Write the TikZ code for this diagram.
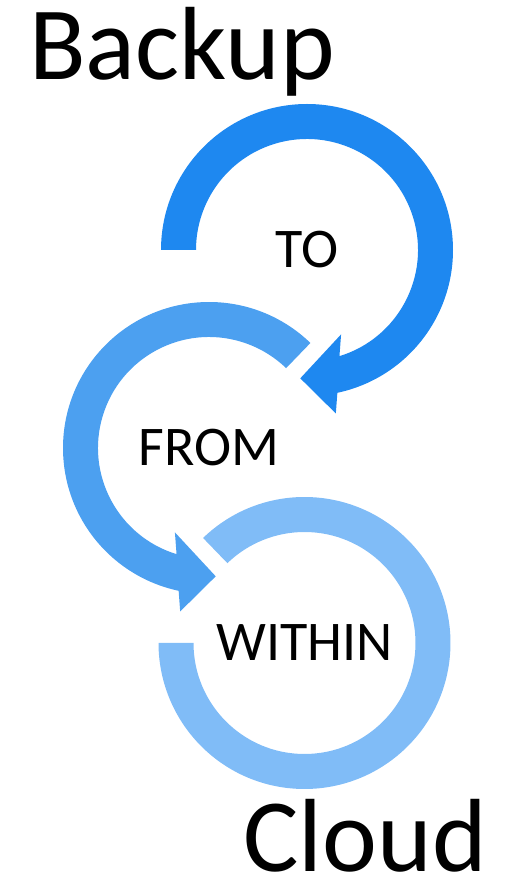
\documentclass[tikz,border=0pt]{standalone}
\usepackage{fontspec}
\setmainfont{Carlito}
\usetikzlibrary{calc}
\definecolor{ringA}{HTML}{1E88F0}
\definecolor{ringB}{HTML}{4CA0F0}
\definecolor{ringC}{HTML}{80BCF7}
\begin{document}
\begin{tikzpicture}[x=0.5pt, y=0.5pt,
  bigword/.style={font=\fontsize{52}{62}\selectfont, inner sep=0pt, anchor=base west},
  ringword/.style={font=\fontsize{28}{34}\selectfont, inner sep=0pt}]
\useasboundingbox (0,0) rectangle (512,880);
\coordinate (ca) at (307,630);
\coordinate (cb) at (209,432);
\coordinate (cc) at (304.5,237);
% Ring TO (pointing into FROM)
\fill[ringA] ($(ca)+(180:146)$) arc[start angle=180, end angle=-78, radius=146]
  -- ($(ca)+(-80:166)$) -- ($(ca)+(-93:128.5)$) -- ($(ca)+(-68:91)$)
  -- ($(ca)+(-73:111)$) arc[start angle=-73, end angle=180, radius=111] -- cycle;
% Ring FROM (pointing into WITHIN)
\fill[ringB] ($(cb)+(46:146)$) arc[start angle=46, end angle=258, radius=146]
  -- ($(cb)+(260:166)$) -- ($(cb)+(273:128.5)$) -- ($(cb)+(248:91)$)
  -- ($(cb)+(253:111)$) arc[start angle=253, end angle=46, radius=111] -- cycle;
% Ring WITHIN
\fill[ringC] ($(cc)+(134:146)$) arc[start angle=134, end angle=-180, radius=146]
  -- ($(cc)+(180:111)$) arc[start angle=-180, end angle=134, radius=111] -- cycle;
% Words
\node[ringword] (to) at (ca) {TO};
\node[ringword] (from) at (cb) {FROM};
\node[ringword] (within) at (cc) {WITHIN};
\node[bigword] (backup) at (29,800) {Backup};
\node[bigword] (cloud) at (243,9) {Cloud};
\end{tikzpicture}
\end{document}
